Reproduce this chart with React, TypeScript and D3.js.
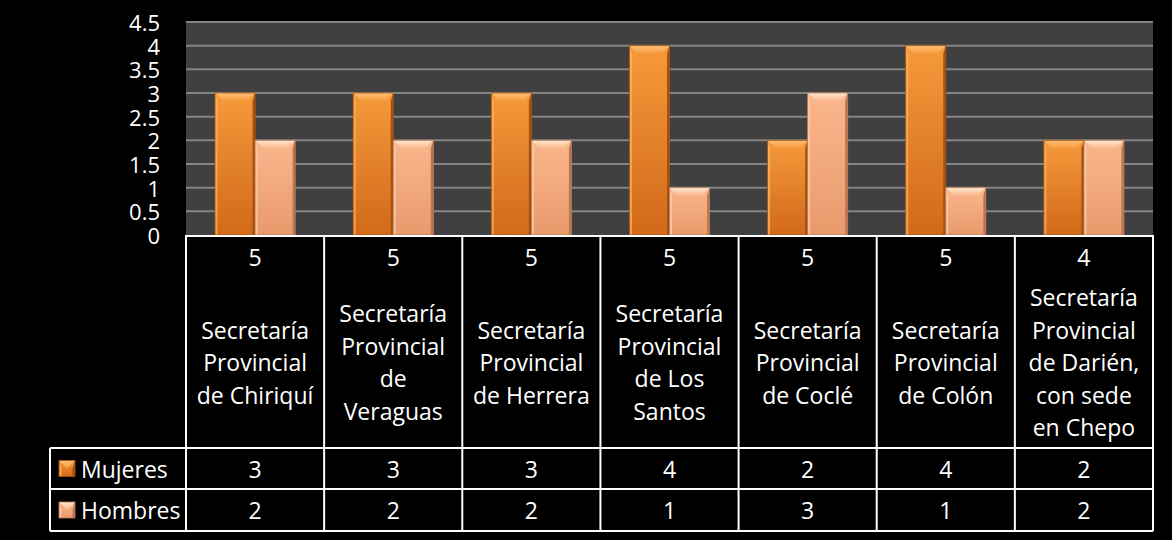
import React from "react";
import * as d3 from "d3";

const categories = [
  "Secretaría Provincial de Chiriquí",
  "Secretaría Provincial de Veraguas",
  "Secretaría Provincial de Herrera",
  "Secretaría Provincial de Los Santos",
  "Secretaría Provincial de Coclé",
  "Secretaría Provincial de Colón",
  "Secretaría Provincial de Darién, con sede en Chepo",
];
const categoryLines = [
  ["Secretaría", "Provincial", "de Chiriquí"],
  ["Secretaría", "Provincial", "de", "Veraguas"],
  ["Secretaría", "Provincial", "de Herrera"],
  ["Secretaría", "Provincial", "de Los", "Santos"],
  ["Secretaría", "Provincial", "de Coclé"],
  ["Secretaría", "Provincial", "de Colón"],
  ["Secretaría", "Provincial", "de Darién,", "con sede", "en Chepo"],
];
const totals = [5, 5, 5, 5, 5, 5, 4];
const mujeres = [3, 3, 3, 4, 2, 4, 2];
const hombres = [2, 2, 2, 1, 3, 1, 2];
const seriesNames = ["Mujeres", "Hombres"];
const yTicks = [0, 0.5, 1, 1.5, 2, 2.5, 3, 3.5, 4, 4.5];

const W = 1172;
const H = 540;
const plotL = 186;
const plotR = 1153;
const plotT = 22;
const plotB = 235;
const legendL = 50;
const rowHeaderB = 448;
const rowMujB = 489;
const rowHomB = 531;
const FONT = "'Open Sans', 'Noto Sans', sans-serif";

const colors = [
  { top: "#F59A3A", bottom: "#D2691A", edge: "#A5500E", light: "#FFB666", bevel: "#FFC27A" },
  { top: "#FBB68C", bottom: "#E89A6C", edge: "#B97653", light: "#FFD2AE", bevel: "#FFE9CE" },
];

function Bar({ x, y, w, h, c, id }: any) {
  if (h <= 0) return null;
  const b = Math.min(8, h / 2);
  const s = Math.min(2.5, w / 6);
  return (
    <g>
      <rect x={x} y={y} width={w} height={h} fill={`url(#grad${id})`} />
      <polygon
        points={`${x},${y} ${x + s},${y + b} ${x + s},${y + h} ${x},${y + h}`}
        fill={c.light}
        opacity={0.7}
      />
      <polygon
        points={`${x + w},${y} ${x + w - s},${y + b} ${x + w - s},${y + h} ${x + w},${y + h}`}
        fill={c.edge}
      />
      <polygon
        points={`${x},${y} ${x + w},${y} ${x + w - b},${y + b} ${x + b},${y + b}`}
        fill={`url(#bev${id})`}
      />
      <rect x={x} y={y} width={w} height={h} fill="none" stroke={c.edge} strokeWidth={0.8} />
    </g>
  );
}

export default function App() {
  const x = d3
    .scaleBand<number>()
    .domain(d3.range(categories.length))
    .range([plotL, plotR])
    .paddingInner(0.42)
    .paddingOuter(0.21);
  const xs = d3
    .scaleBand<number>()
    .domain([0, 1])
    .range([0, x.bandwidth()]);
  const y = d3.scaleLinear().domain([0, 4.5]).range([plotB, plotT]);
  const step = (plotR - plotL) / categories.length;
  const colEdges = d3.range(categories.length + 1).map((i) => plotL + i * step);
  const series = [mujeres, hombres];

  return (
    <svg width={W} height={H} style={{ position: "absolute", left: 0, top: 0, background: "#000" }}>
      <defs>
        {colors.map((c, i) => (
          <linearGradient key={i} id={`grad${i}`} x1="0" x2="0" y1="0" y2="1">
            <stop offset="0" stopColor={c.top} />
            <stop offset="1" stopColor={c.bottom} />
          </linearGradient>
        ))}
        {colors.map((c, i) => (
          <linearGradient key={i} id={`bev${i}`} x1="0" x2="0" y1="0" y2="1">
            <stop offset="0" stopColor={c.bevel} />
            <stop offset="1" stopColor={c.top} />
          </linearGradient>
        ))}
      </defs>
      <rect x={0} y={0} width={W} height={H} fill="#000" />
      <rect x={plotL} y={plotT} width={plotR - plotL} height={plotB - plotT} fill="#404040" />
      {yTicks.slice(1).map((t) => (
        <line key={t} x1={plotL} x2={plotR} y1={y(t)} y2={y(t)} stroke="#858585" strokeWidth={2} />
      ))}
      {yTicks.map((t) => (
        <text
          key={t}
          x={160}
          y={y(t)}
          textAnchor="end"
          dominantBaseline="central"
          fill="#fff"
          fontFamily={FONT}
          fontSize={22}
        >
          {t}
        </text>
      ))}
      {categories.map((cat, i) =>
        series.map((s, j) => {
          const bx = (x(i) as number) + (xs(j) as number);
          return (
            <Bar key={`${i}-${j}`} x={bx} y={y(s[i])} w={xs.bandwidth()} h={y(0) - y(s[i])} c={colors[j]} id={j} />
          );
        })
      )}
      <g stroke="#fff" strokeWidth={2}>
        <line x1={plotL} x2={plotR} y1={plotB + 1} y2={plotB + 1} />
        <line x1={legendL} x2={plotR} y1={rowHeaderB} y2={rowHeaderB} />
        <line x1={legendL} x2={plotR} y1={rowMujB} y2={rowMujB} />
        <line x1={legendL} x2={plotR} y1={rowHomB} y2={rowHomB} />
        <line x1={legendL} x2={legendL} y1={rowHeaderB} y2={rowHomB} />
        {colEdges.map((cx, i) => (
          <line key={i} x1={cx} x2={cx} y1={plotB} y2={rowHomB} />
        ))}
      </g>
      {categories.map((cat, i) => {
        const cx = plotL + (i + 0.5) * step;
        const lines = categoryLines[i];
        const center = 362;
        const lh = 32.5;
        return (
          <g key={cat} fill="#fff" fontFamily={FONT} fontSize={23} textAnchor="middle">
            <text x={cx} y={257} dominantBaseline="central">
              {totals[i]}
            </text>
            {lines.map((ln, k) => (
              <text key={k} x={cx} y={center + (k - (lines.length - 1) / 2) * lh} dominantBaseline="central">
                {ln}
              </text>
            ))}
            <text x={cx} y={(rowHeaderB + rowMujB) / 2} dominantBaseline="central">
              {mujeres[i]}
            </text>
            <text x={cx} y={(rowMujB + rowHomB) / 2} dominantBaseline="central">
              {hombres[i]}
            </text>
          </g>
        );
      })}
      {seriesNames.map((name, j) => {
        const cy = j === 0 ? (rowHeaderB + rowMujB) / 2 : (rowMujB + rowHomB) / 2;
        const c = colors[j];
        return (
          <g key={name}>
            <Bar x={59} y={cy - 8} w={16} h={16} c={c} id={j} />
            <text x={81} y={cy} dominantBaseline="central" fill="#fff" fontFamily={FONT} fontSize={23}>
              {name}
            </text>
          </g>
        );
      })}
    </svg>
  );
}
